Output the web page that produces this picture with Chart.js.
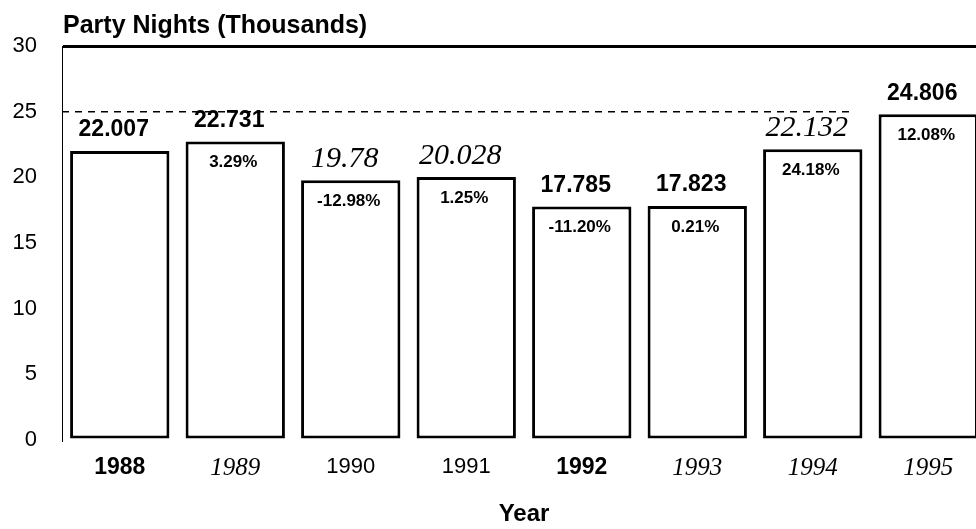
<!DOCTYPE html>
<html>
<head>
<meta charset="utf-8">
<title>Party Nights (Thousands)</title>
<script src="https://cdn.jsdelivr.net/npm/chart.js@4.4.1/dist/chart.umd.min.js"></script>
<style>
  html, body { margin: 0; padding: 0; background: #fff; overflow: hidden; }
  #partyChart { display: block; }
</style>
</head>
<body>
<canvas id="partyChart" width="990" height="529"></canvas>
<script>
// data
var years = ["1988", "1989", "1990", "1991", "1992", "1993", "1994", "1995"];
var partyNights = [22.007, 22.731, 19.78, 20.028, 17.785, 17.823, 22.132, 24.806];
var pctChange = [null, 3.29, -12.98, 1.25, -11.20, 0.21, 24.18, 12.08];
var yMin = 0, yMax = 30, yStep = 5;
var referenceLevel = 25;

var SANS = "'Liberation Sans', Arial, sans-serif";
var SERIF = "'Liberation Serif', 'Times New Roman', serif";

// the scan mixes fonts, keep that look
var boldSans = { family: SANS, size: 23, weight: 'bold', lineHeight: 1 };
var plainSans = { family: SANS, size: 22, weight: 'normal', lineHeight: 1 };
var italicSerif = { family: SERIF, size: 25, style: 'italic', weight: 'normal', lineHeight: 1 };
var bigSerif = { family: SERIF, size: 30, style: 'italic', weight: 'normal', lineHeight: 1 };

var yearFonts = [boldSans, italicSerif, plainSans, plainSans, boldSans, italicSerif, italicSerif, italicSerif];
var valueFonts = [boldSans, boldSans, bigSerif, bigSerif, boldSans, boldSans, bigSerif, boldSans];

function cssFont(f) {
    return (f.style || 'normal') + ' ' + f.weight + ' ' + f.size + 'px ' + f.family;
}

var extrasPlugin = {
    id: 'extras',
    beforeDatasetsDraw: function (chart) {
        var ctx = chart.ctx;
        var x = chart.scales.x;
        var y = chart.scales.y.getPixelForValue(referenceLevel);
        var half = (x.getPixelForValue(1) - x.getPixelForValue(0)) / 2;
        ctx.save();
        ctx.strokeStyle = '#000';
        ctx.lineWidth = 1.5;
        ctx.setLineDash([7, 6]);
        ctx.beginPath();
        ctx.moveTo(chart.chartArea.left, y);
        ctx.lineTo(x.getPixelForValue(6) + half * 0.7, y);
        ctx.stroke();
        ctx.restore();
    },
    afterDatasetsDraw: function (chart) {
        var ctx = chart.ctx;
        var meta = chart.getDatasetMeta(0);
        ctx.save();
        ctx.fillStyle = '#000';
        ctx.textAlign = 'center';
        ctx.textBaseline = 'middle';
        meta.data.forEach(function (bar, i) {
            ctx.font = cssFont(valueFonts[i]);
            ctx.fillText(String(partyNights[i]), bar.x - 6, bar.y - 21);
            if (pctChange[i] !== null) {
                ctx.font = 'bold 17px ' + SANS;
                ctx.fillText(pctChange[i].toFixed(2) + '%', bar.x - 2, bar.y + 21);
            }
        });
        // chart title, top left over the plot
        ctx.textAlign = 'left';
        ctx.textBaseline = 'alphabetic';
        ctx.font = 'bold 25px ' + SANS;
        ctx.fillText('Party Nights (Thousands)', chart.chartArea.left + 1, 33);
        ctx.restore();
    }
};

Chart.defaults.color = '#000';
Chart.defaults.font.family = SANS;

var partyChart = new Chart(document.getElementById('partyChart').getContext('2d'), {
    type: 'bar',
    data: {
        labels: years,
        datasets: [{
            data: partyNights,
            backgroundColor: '#fff',
            borderColor: '#000',
            borderWidth: 3,
            borderSkipped: false,
            barPercentage: 0.86,
            categoryPercentage: 1.0
        }]
    },
    options: {
        responsive: false,
        animation: false,
        layout: { padding: { top: 46, right: 4, bottom: 0, left: 0 } },
        plugins: {
            legend: { display: false },
            tooltip: { enabled: false }
        },
        scales: {
            x: {
                grid: { display: false },
                border: { display: false },
                ticks: {
                    padding: 8,
                    color: '#000',
                    font: function (c) { return yearFonts[c.index]; }
                },
                title: {
                    display: true,
                    text: 'Year',
                    color: '#000',
                    padding: { top: 0, bottom: 0 },
                    font: { family: SANS, size: 24, weight: 'bold', lineHeight: 1.2 }
                },
                afterFit: function (scale) { scale.height = 89; }
            },
            y: {
                min: yMin,
                max: yMax,
                ticks: {
                    stepSize: yStep,
                    padding: 25,
                    color: '#000',
                    font: { family: SANS, size: 22 }
                },
                grid: {
                    drawTicks: false,
                    lineWidth: 3,
                    color: function (c) { return c.tick && c.tick.value === yMax ? '#000' : 'rgba(0,0,0,0)'; }
                },
                border: { display: true, color: '#000', width: 1 },
                afterFit: function (scale) { scale.width = 62; }
            }
        }
    },
    plugins: [extrasPlugin]
});
</script>
</body>
</html>
